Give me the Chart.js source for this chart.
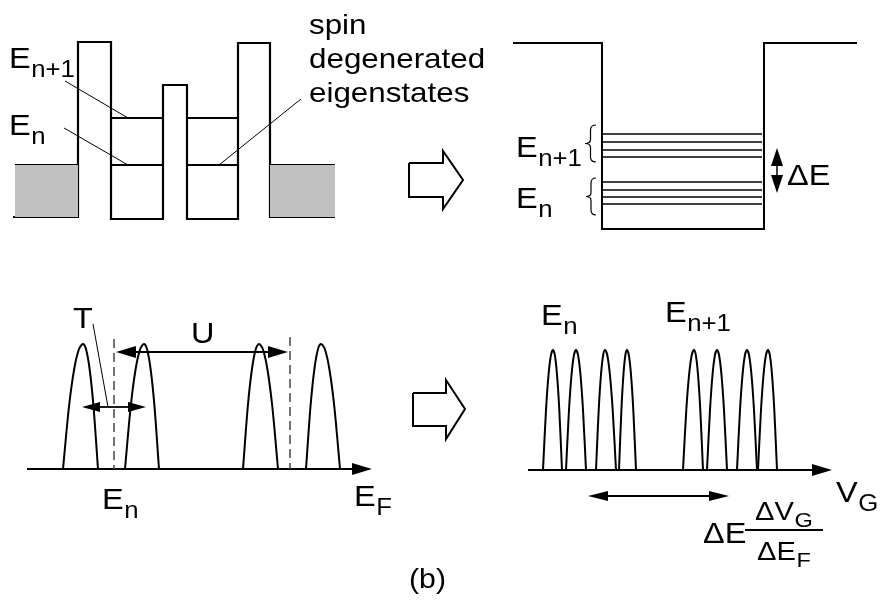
<!DOCTYPE html>
<html>
<head>
<meta charset="utf-8">
<script src="https://cdn.jsdelivr.net/npm/chart.js@4/dist/chart.umd.min.js"></script>
<style>body{margin:0;background:#fff}</style>
</head>
<body>
<canvas id="lienzo" width="881" height="601"></canvas>
<script>
// ---- pozo doble (arriba izquierda) ----
const perfilX = [13, 78, 78, 111, 111, 163, 163, 187, 187, 238, 238, 270, 270, 335];
const perfilY = [217, 217, 42, 42, 219, 219, 85, 85, 219, 219, 43, 43, 217, 217];
const reservaIzqX = [15, 78];
const reservaDerX = [270, 335];
const reservaY = [165, 217];
const nivelesDobleY = [118, 165];
const pozosDobleX = [[111, 163], [187, 238]];
const guiasX = [[65, 128], [64, 128], [219, 301]];
const guiasY = [[81, 118], [128, 165], [165, 99]];

// ---- pozo ancho (arriba derecha) ----
const pozoX = [513, 602, 602, 764, 764, 857];
const pozoY = [43, 43, 229, 229, 43, 43];
const nivelesX = [603, 762];
const nivelesY = [134, 142, 150, 157, 182, 190, 197, 204];
const llaves = [[585, 596, 125, 162], [586, 596, 178, 215]];

// ---- flechas huecas ----
const flechaArribaX = [409, 443, 443, 463, 443, 443, 409, 409];
const flechaArribaY = [163, 163, 151, 180, 209, 197, 197, 163];
const flechaAbajoX = [413, 446, 446, 465, 446, 446, 413, 413];
const flechaAbajoY = [393, 393, 380, 409, 439, 426, 426, 393];

// ---- picos (abajo) ----
const picosIzqCentro = [83, 144, 259, 321];
const picosIzqPie1 = [63, 125, 243, 306];
const picosIzqPie2 = [98, 159, 278, 340];
const picosIzqAlto = [344, 469];
const picosDerCentro = [553, 576, 605, 627, 694, 717, 747, 768];
const picosDerPie1 = [543, 566, 596, 619, 683, 707, 737, 758];
const picosDerPie2 = [562, 586, 616, 636, 703, 727, 757, 777];
const picosDerAlto = [350, 470];
// forma del arco: fraccion de ancho, fraccion de altura
const formaArco = [[1, 0], [0.7, 0.5], [0.44, 0.8], [0.2, 0.96], [0, 1]];

const discontinuasX = [114, 290];
const discontinuasY = [[339, 469], [337, 469]];
const fraccionX = [745, 823];
const fraccionY = 530;

// flechas: [x1, y1, x2, y2, largo punta, medio ancho, doble]
const flechas = [
    [27, 469, 372, 469, 20, 6, false],
    [528, 470, 832, 470, 20, 6, false],
    [116, 352, 288, 352, 20, 6, true],
    [82, 407, 146, 407, 18, 5, true],
    [588, 496, 729, 496, 20, 5, true],
    [777, 148, 777, 193, 18, 6, true]
];
const guiaT = [[93, 324], [108, 407]];

// textos: [texto, subindice, x, linea base, tamano]
const etiquetas = [
    ['E', 'n+1', 9, 68, 29],
    ['E', 'n', 9, 135, 29],
    ['spin', '', 309, 34, 28],
    ['degenerated', '', 309, 68, 28],
    ['eigenstates', '', 309, 102, 28],
    ['E', 'n+1', 516, 157, 29],
    ['E', 'n', 516, 208, 29],
    ['\u0394E', '', 787, 185, 29],
    ['T', '', 73, 328, 29],
    ['U', '', 191, 343, 29],
    ['E', 'n', 102, 509, 29],
    ['E', 'F', 354, 506, 29],
    ['E', 'n', 541, 325, 29],
    ['E', 'n+1', 665, 322, 29],
    ['V', 'G', 836, 502, 29],
    ['\u0394E', '', 703, 543, 29],
    ['\u0394V', 'G', 755, 520, 26],
    ['\u0394E', 'F', 757, 560, 26],
    ['(b)', '', 409, 588, 27]
];
const estiramiento = 1.12;
const fuente = '"Liberation Sans", Arial, Helvetica, sans-serif';

const conjuntos = [];

function trazo(xs, ys, ancho, extra) {
    const puntos = xs.map((x, i) => ({x: x, y: ys[i]}));
    conjuntos.push(Object.assign({
        data: puntos,
        borderColor: '#000',
        borderWidth: ancho,
        pointRadius: 0,
        fill: false,
        tension: 0,
        borderJoinStyle: 'miter',
        borderCapStyle: 'butt'
    }, extra || {}));
}

function relleno(xs, ys, color) {
    trazo(xs, ys, 0, {fill: 'shape', backgroundColor: color, borderColor: 'rgba(0,0,0,0)'});
}

function punta(tx, ty, dx, dy, largo, medio) {
    const n = Math.hypot(dx, dy), ux = dx / n, uy = dy / n;
    const bx = tx - ux * largo, by = ty - uy * largo;
    relleno([tx, bx - uy * medio, bx + uy * medio, tx],
            [ty, by + ux * medio, by - ux * medio, ty], '#000');
}

// reservorios grises
relleno([reservaIzqX[0], reservaIzqX[1], reservaIzqX[1], reservaIzqX[0], reservaIzqX[0]],
        [reservaY[0], reservaY[0], reservaY[1], reservaY[1], reservaY[0]], '#c0c0c0');
relleno([reservaDerX[0], reservaDerX[1], reservaDerX[1], reservaDerX[0], reservaDerX[0]],
        [reservaY[0], reservaY[0], reservaY[1], reservaY[1], reservaY[0]], '#c0c0c0');

trazo(perfilX, perfilY, 2.2);
trazo(reservaIzqX, [reservaY[0], reservaY[0]], 2.2);
trazo(reservaDerX, [reservaY[0], reservaY[0]], 2.2);
nivelesDobleY.forEach(y => {
    pozosDobleX.forEach(p => trazo(p, [y, y], 1.8));
});
guiasX.forEach((g, i) => trazo(g, guiasY[i], 1));

trazo(pozoX, pozoY, 2);
nivelesY.forEach(y => trazo(nivelesX, [y, y], 1.5));

trazo(flechaArribaX, flechaArribaY, 2);
trazo(flechaAbajoX, flechaAbajoY, 2);

function picos(centros, pies1, pies2, alto) {
    centros.forEach((c, i) => {
        const xs = [], ys = [];
        formaArco.forEach(f => {
            xs.push(c - (c - pies1[i]) * f[0]);
            ys.push(alto[1] - (alto[1] - alto[0]) * f[1]);
        });
        for (let k = formaArco.length - 2; k >= 0; k--) {
            xs.push(c + (pies2[i] - c) * formaArco[k][0]);
            ys.push(alto[1] - (alto[1] - alto[0]) * formaArco[k][1]);
        }
        trazo(xs, ys, 2, {tension: 0.3});
    });
}
picos(picosIzqCentro, picosIzqPie1, picosIzqPie2, picosIzqAlto);
picos(picosDerCentro, picosDerPie1, picosDerPie2, picosDerAlto);

discontinuasX.forEach((x, i) => trazo([x, x], discontinuasY[i], 1.5, {borderDash: [9, 5], borderColor: '#444'}));

flechas.forEach(f => {
    const dx = f[2] - f[0], dy = f[3] - f[1];
    const n = Math.hypot(dx, dy), ux = dx / n, uy = dy / n;
    const ini = f[6] ? f[4] - 2 : 0;
    trazo([f[0] + ux * ini, f[2] - ux * (f[4] - 2)], [f[1] + uy * ini, f[3] - uy * (f[4] - 2)],
          Math.abs(dy) > 0 ? 1.5 : (f[6] ? 1.8 : 2.2));
    punta(f[2], f[3], dx, dy, f[4], f[5]);
    if (f[6]) punta(f[0], f[1], -dx, -dy, f[4], f[5]);
});
trazo([guiaT[0][0], guiaT[1][0]], [guiaT[0][1], guiaT[1][1]], 1);
trazo(fraccionX, [fraccionY, fraccionY], 2);

const pluginTextos = {
    id: 'textos',
    afterDatasetsDraw(chart) {
        const c = chart.ctx, sx = chart.scales.x, sy = chart.scales.y;
        c.save();
        c.fillStyle = '#000';
        c.textBaseline = 'alphabetic';
        etiquetas.forEach(e => {
            c.save();
            c.translate(sx.getPixelForValue(e[2]), sy.getPixelForValue(e[3]));
            c.scale(estiramiento, 1);
            c.font = e[4] + 'px ' + fuente;
            c.fillText(e[0], 0, 0);
            if (e[1]) {
                const w = c.measureText(e[0]).width;
                c.font = Math.round(e[4] * 0.8) + 'px ' + fuente;
                c.fillText(e[1], w + 0.5, e[4] > 27 ? 9 : 7);
            }
            c.restore();
        });
        // llaves {
        c.strokeStyle = '#000';
        c.lineWidth = 1.2;
        llaves.forEach(l => {
            const xt = sx.getPixelForValue(l[0]), xr = sx.getPixelForValue(l[1]);
            const y0 = sy.getPixelForValue(l[2]), y1 = sy.getPixelForValue(l[3]);
            const xm = (xt + xr) / 2, ym = (y0 + y1) / 2;
            c.beginPath();
            c.moveTo(xr, y0);
            c.quadraticCurveTo(xm, y0, xm, y0 + 5);
            c.lineTo(xm, ym - 4);
            c.quadraticCurveTo(xm, ym, xt, ym);
            c.quadraticCurveTo(xm, ym, xm, ym + 4);
            c.lineTo(xm, y1 - 5);
            c.quadraticCurveTo(xm, y1, xr, y1);
            c.stroke();
        });
        c.restore();
    }
};

new Chart(document.getElementById('lienzo'), {
    type: 'line',
    data: {datasets: conjuntos},
    options: {
        responsive: false,
        animation: false,
        layout: {padding: 0},
        plugins: {legend: {display: false}, tooltip: {enabled: false}},
        scales: {
            x: {type: 'linear', min: 0, max: 881, display: false},
            y: {type: 'linear', min: 0, max: 601, reverse: true, display: false}
        }
    },
    plugins: [pluginTextos]
});
</script>
</body>
</html>
